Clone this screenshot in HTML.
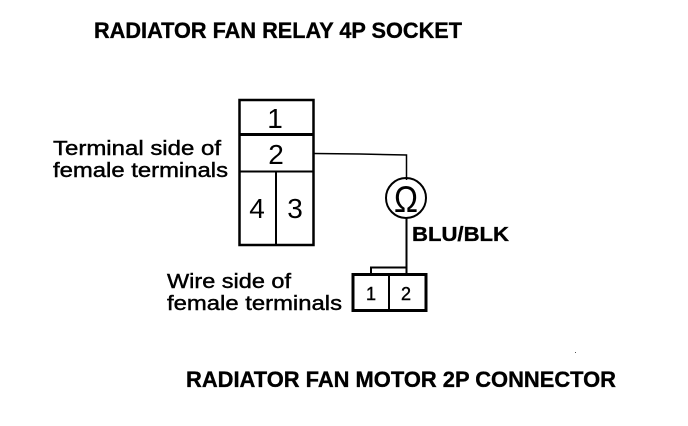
<!DOCTYPE html>
<html>
<head>
<meta charset="utf-8">
<style>
html,body{margin:0;padding:0;background:#fff;}
svg{display:block;}
text{font-family:"Liberation Sans",sans-serif;fill:#000;}
.b{font-weight:bold;font-size:22px;stroke:#000;stroke-width:.35px;}
.t{font-size:20.5px;stroke:#000;stroke-width:.45px;}
.d{font-size:28px;text-anchor:middle;}
.s{font-size:18px;text-anchor:middle;stroke:#000;stroke-width:.4px;}
</style>
</head>
<body>
<svg width="688" height="426" viewBox="0 0 688 426" xmlns="http://www.w3.org/2000/svg">
<rect width="688" height="426" fill="#fff"/>
<text class="b" x="94" y="38" textLength="368" lengthAdjust="spacingAndGlyphs">RADIATOR FAN RELAY 4P SOCKET</text>
<text class="b" x="186" y="387" textLength="430" lengthAdjust="spacingAndGlyphs">RADIATOR FAN MOTOR 2P CONNECTOR</text>
<text class="b" x="412" y="241" textLength="97" lengthAdjust="spacingAndGlyphs" style="font-size:20px">BLU/BLK</text>

<text class="t" x="53" y="155" textLength="168" lengthAdjust="spacingAndGlyphs">Terminal side of</text>
<text class="t" x="53" y="177" textLength="175" lengthAdjust="spacingAndGlyphs">female terminals</text>
<text class="t" x="167" y="288" textLength="124" lengthAdjust="spacingAndGlyphs">Wire side of</text>
<text class="t" x="167" y="310" textLength="175" lengthAdjust="spacingAndGlyphs">female terminals</text>

<g fill="none" stroke="#000">
<rect x="239.500" y="100" width="74" height="145" stroke-width="2.500"/>
<line x1="239" y1="134.500" x2="314" y2="134.500" stroke-width="3"/>
<line x1="239" y1="171.500" x2="314" y2="171.500" stroke-width="2"/>
<line x1="276" y1="171" x2="276" y2="245" stroke-width="2"/>
<polyline points="314,153.500 360,154 406.500,155 406.500,180" stroke-width="1.500"/>
<circle cx="406" cy="198" r="20" stroke-width="2"/>
<line x1="406.500" y1="217" x2="406.500" y2="274" stroke-width="2"/>
<rect x="353" y="274.500" width="73" height="36" stroke-width="3"/>
<line x1="389" y1="274" x2="389" y2="311" stroke-width="2"/>
<polyline points="371,274 371,267.500 406,267.500" stroke-width="2"/>
</g>

<text class="d" x="275" y="128">1</text>
<text class="d" x="276" y="164">2</text>
<text class="d" x="257" y="218">4</text>
<text class="d" x="295" y="218">3</text>
<text class="s" x="371" y="300">1</text>
<text class="s" x="406" y="300">2</text>
<text x="394" y="212" style="font-size:37px" textLength="24" lengthAdjust="spacingAndGlyphs">Ω</text>
<rect x="575" y="352" width="1" height="1" fill="#555"/>
</svg>
</body>
</html>
